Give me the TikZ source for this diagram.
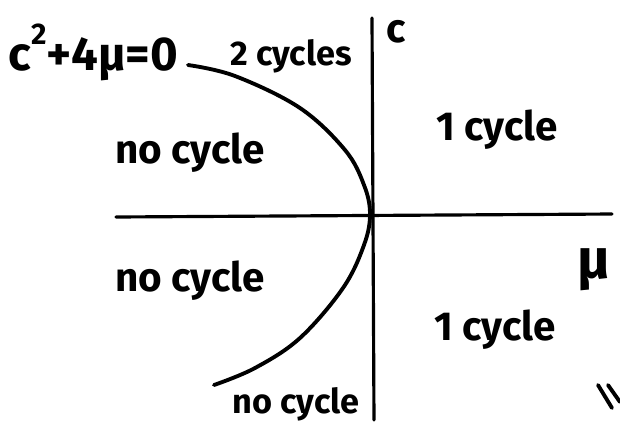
\documentclass[tikz,border=0pt]{standalone}
\usepackage{fontspec}
\setmainfont{Fira Sans}
\begin{document}
\begin{tikzpicture}[x=0.02cm,y=-0.02cm,
  lbl/.style={font=\fontsize{23}{26}\selectfont\bfseries, inner sep=0pt},
  small/.style={font=\fontsize{19.5}{22}\selectfont\bfseries},
  axis/.style={line width=1.8pt, line cap=round},
  curve/.style={line width=2.2pt, line cap=round}]
\useasboundingbox (0,0) rectangle (620,441);
% axes
\coordinate (hl) at (116,217);
\coordinate (hr) at (612,214);
\coordinate (vt) at (372,18);
\coordinate (vb) at (374,420);
\draw[axis] (hl) -- (hr);
\draw[axis] (vt) -- (vb);
% parabola c^2 + 4 mu = 0
\draw[curve] plot[smooth, tension=0.6] coordinates {(188,65) (235,76) (300,108) (345,150) (364,185) (370,214) (364,245) (343,288) (300,338) (255,368) (214,385)};
% labels
\node[lbl, font=\fontsize{27}{30}\selectfont\bfseries, anchor=west] (eq) at (8,52) {c\raisebox{0.55em}{\fontsize{17}{18}\selectfont 2}+4μ=0};
\node[lbl, small] (two) at (291,56) {2 cycles};
\node[lbl] (c) at (396,32) {c};
\node[lbl] (one1) at (497,130) {1 cycle};
\node[lbl] (no1) at (190,153) {no cycle};
\node[lbl] (no2) at (190,281) {no cycle};
\node[lbl] (one2) at (495,330) {1 cycle};
\node[lbl, small] (no3) at (296,404) {no cycle};
\node[lbl, font=\fontsize{32}{34}\selectfont\bfseries] (mu) at (594,270) {μ};
% scan marks
\coordinate (m1a) at (598,385);
\coordinate (m1b) at (612,408);
\coordinate (m2a) at (608,385);
\coordinate (m2b) at (620,402);
\draw[curve] (m1a) -- (m1b);
\draw[curve] (m2a) -- (m2b);
\end{tikzpicture}
\end{document}
